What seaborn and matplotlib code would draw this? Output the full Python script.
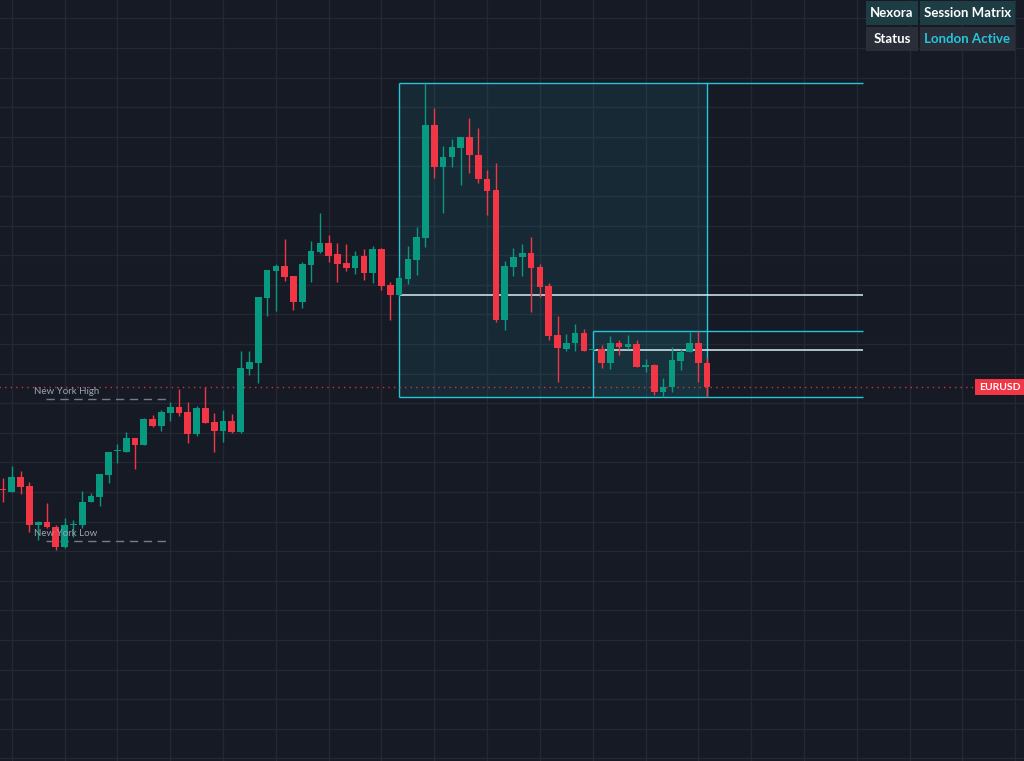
import numpy as np
import pandas as pd
import seaborn as sns
import matplotlib.pyplot as plt
from matplotlib.patches import Rectangle

# candle data (price index units)
opens = [311, 308, 323, 314, 275, 278, 273, 253, 275, 275, 298, 303, 325, 349, 348, 362, 355, 381, 374, 387,
         393, 388, 366, 392, 378, 369, 379, 368, 431, 437, 502, 529, 534, 524, 498, 535, 548, 557, 546, 537,
         532, 544, 527, 551, 515, 505, 521, 540, 562, 675, 633, 643, 652, 663, 645, 621, 610, 480, 533, 543,
         547, 533, 514, 465, 451, 457, 467, 450, 451, 437, 457, 453, 456, 433, 435, 408, 413, 439, 448, 457,
         437]
highs = [322, 334, 329, 318, 279, 297, 275, 282, 280, 309, 307, 326, 348, 356, 368, 362, 382, 385, 390, 398,
         411, 398, 394, 413, 387, 390, 386, 449, 449, 503, 530, 536, 561, 524, 538, 559, 587, 565, 557, 556,
         549, 551, 554, 552, 518, 524, 554, 573, 717, 692, 654, 661, 663, 682, 672, 630, 637, 539, 552, 556,
         563, 536, 517, 484, 466, 476, 471, 452, 455, 464, 460, 465, 460, 441, 436, 422, 453, 451, 468, 469,
         442]
lows = [298, 308, 306, 268, 260, 272, 250, 252, 263, 272, 298, 294, 317, 337, 348, 331, 355, 373, 369, 379,
        384, 357, 364, 377, 348, 358, 367, 367, 425, 417, 484, 489, 519, 490, 492, 518, 547, 538, 518, 529,
        526, 520, 517, 510, 480, 504, 516, 525, 553, 622, 587, 633, 615, 627, 617, 585, 478, 470, 524, 524,
        488, 503, 460, 418, 449, 449, 449, 449, 432, 431, 445, 451, 433, 428, 405, 403, 408, 430, 448, 418,
        403]
closes = [310, 323, 313, 275, 278, 273, 253, 275, 276, 298, 304, 326, 348, 350, 362, 355, 381, 374, 388, 393,
          387, 366, 392, 377, 369, 379, 368, 432, 438, 503, 530, 534, 523, 498, 536, 549, 557, 544, 536, 532,
          544, 527, 551, 514, 505, 522, 541, 563, 675, 633, 643, 653, 663, 645, 621, 609, 480, 534, 543, 547,
          532, 513, 464, 452, 457, 467, 449, 451, 437, 457, 453, 456, 433, 435, 408, 413, 440, 448, 457, 437,
          413]

ny_high = 401
ny_low = 259
ny_span = (4.9, 18.6)
london_start = 45
sub_start = 67
session_end = 80
level_end = 97.7

BG = "#161a25"
GRID = "#242834"
GREEN = "#089981"
RED = "#f23645"
CYAN = "#26c6da"

df = pd.DataFrame({"open": opens, "high": highs, "low": lows, "close": closes})
df["idx"] = np.arange(len(df))
df["up"] = df["close"] >= df["open"]

sns.set_theme(style="dark", rc={"axes.facecolor": BG, "figure.facecolor": BG})

fig = plt.figure(figsize=(10.24, 7.61), dpi=100)
ax = fig.add_axes([0, 0, 1, 1])
ax.set_xlim(-0.34, 116.0)
ax.set_ylim(39, 800)

# grid
ax.set_xticks(np.arange(1, 117, 6))
ax.set_yticks(781.7 - 29.6 * np.arange(0, 26))
ax.grid(True, color=GRID, lw=1)
ax.tick_params(length=0, labelbottom=False, labelleft=False)
for s in ax.spines.values():
    s.set_visible(False)

# session boxes
sess = df.iloc[london_start:session_end + 1]
top, bot = sess["high"].max(), sess["low"].min()
ax.add_patch(Rectangle((london_start, bot), session_end - london_start, top - bot,
                       facecolor=CYAN, alpha=0.09, edgecolor="none", zorder=1))
ax.vlines([london_start, session_end], bot, top, color=CYAN, lw=1, zorder=2)
ax.hlines([top, bot], london_start, level_end, color=CYAN, lw=1, zorder=2)
ax.hlines(df["open"][london_start], london_start, level_end, color="#d7eef2", lw=1.1, zorder=2)

sub = df.iloc[sub_start:session_end + 1]
stop = sub["high"].max()
ax.add_patch(Rectangle((sub_start, bot), session_end - sub_start, stop - bot,
                       facecolor=CYAN, alpha=0.05, edgecolor="none", zorder=1))
ax.vlines(sub_start, bot, stop, color=CYAN, lw=1, zorder=2)
ax.hlines(stop, sub_start, level_end, color=CYAN, lw=1, zorder=2)
ax.hlines(df["open"][sub_start], sub_start, level_end, color="#d7eef2", lw=1.1, zorder=2)

# New York levels
for lvl, name in [(ny_high, "New York High"), (ny_low, "New York Low")]:
    ax.hlines(lvl, ny_span[0], ny_span[1], color="#787b86", lw=1, linestyles=(0, (6, 4)), zorder=2)
    ax.text(3.5, lvl + 2.5, name, color="#9aa3ad", fontsize=7, ha="left", va="bottom", zorder=5,
            family="Lato")

# last price line
last = df["close"].iloc[-1]
ax.hlines(last, -1, 110.5, color=RED, lw=1, linestyles=(0, (1, 3)), alpha=0.85, zorder=2)
ax.text(0.976, last, "EURUSD", transform=ax.get_yaxis_transform(), color="white", fontsize=7.5,
        fontweight="bold", ha="center", va="center", family="Lato",
        bbox=dict(boxstyle="square,pad=0.35", facecolor=RED, edgecolor="none"), zorder=6)

# candles
colors = np.where(df["up"], GREEN, RED)
ax.vlines(df["idx"], df["low"], df["high"], colors=colors, lw=1, zorder=3)
body = np.maximum((df["close"] - df["open"]).abs(), 1.0)
ax.bar(df["idx"], body, bottom=np.minimum(df["open"], df["close"]), width=0.76,
       color=colors, edgecolor="none", zorder=4)

# info table
W, H = 1024, 761
cells = [
    (866, 918, 1, 25, "#1e3c44", "Nexora", "white"),
    (920, 1015, 1, 25, "#1e3c44", "Session Matrix", "white"),
    (866, 918, 27, 51, "#2a2e39", "Status", "white"),
    (920, 1015, 27, 51, "#2a2e39", "London Active", CYAN),
]
for x0, x1, y0, y1, fc, txt, tc in cells:
    fig.add_artist(Rectangle((x0 / W, 1 - y1 / H), (x1 - x0) / W, (y1 - y0) / H,
                             transform=fig.transFigure, facecolor=fc, edgecolor="none"))
    fig.text((x0 + x1) / 2 / W, 1 - (y0 + y1) / 2 / H, txt, color=tc, fontsize=9.5,
             fontweight="bold", ha="center", va="center", family="Lato")

fig.savefig("out.png", dpi=100, facecolor=BG)
